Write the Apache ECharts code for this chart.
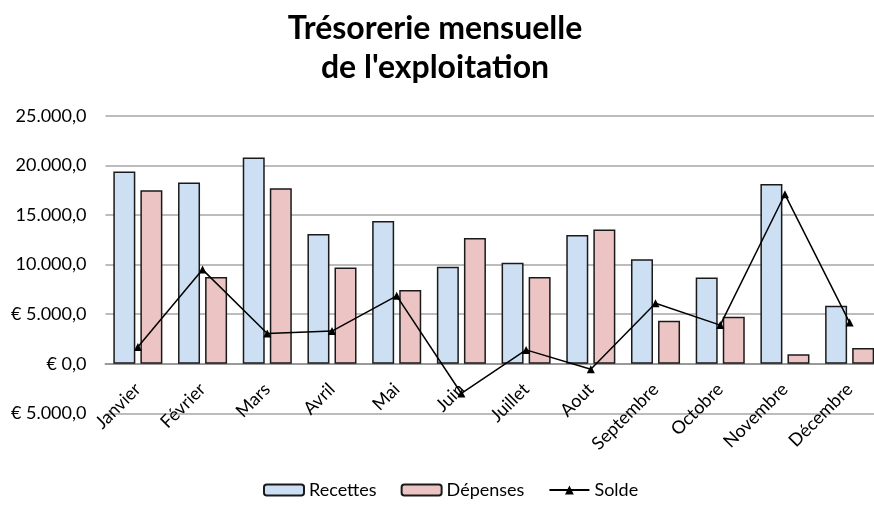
<!DOCTYPE html>
<html>
<head>
<meta charset="utf-8">
<script src="https://cdn.jsdelivr.net/npm/echarts@6/dist/echarts.min.js"></script>
<style>
  html, body { margin: 0; padding: 0; background: #fff; overflow: hidden; }
  /* la zone de tracé dépasse un peu à droite, comme l'original recadré */
  #chart { width: 882px; height: 524px; }
</style>
</head>
<body>
<div id="chart"></div>
<script>
// mois
var mois = ['Janvier', 'Février', 'Mars', 'Avril', 'Mai', 'Juin', 'Juillet', 'Aout', 'Septembre', 'Octobre', 'Novembre', 'Décembre'];
// valeurs
var recettes = [19400, 18300, 20800, 13100, 14400, 9800, 10200, 13000, 10550, 8700, 18150, 5850];
var depenses = [17500, 8750, 17700, 9700, 7450, 12700, 8750, 13550, 4350, 4750, 950, 1600];
var solde = [1700, 9500, 3050, 3300, 6850, -3000, 1400, -550, 6100, 3900, 17100, 4150];
// axe vertical
var yMin = -5000, yMax = 25000, yStep = 5000;
var yLabels = ['€ 5.000,0', '€ 0,0', '€ 5.000,0', '10.000,0', '15.000,0', '20.000,0', '25.000,0'];

var chart = echarts.init(document.getElementById('chart'));
var police = 'Lato';

var option = {
    animation: false,
    title: {
        text: 'Trésorerie mensuelle\nde l\'exploitation',
        left: 430,
        textAlign: 'center',
        top: 4,
        textStyle: {
            fontFamily: police,
            fontWeight: 'bold',
            fontSize: 32,
            lineHeight: 39,
            color: '#000'
        }
    },
    legend: {
        bottom: 20,
        left: 258,
        itemWidth: 40,
        itemHeight: 11,
        itemGap: 24,
        textStyle: { fontFamily: police, fontSize: 18, color: '#000' },
        data: ['Recettes', 'Dépenses', 'Solde']
    },
    grid: {
        left: 105.5,
        width: 776.5,
        top: 116,
        bottom: 110.7,
        containLabel: false
    },
    xAxis: {
        type: 'category',
        data: mois,
        axisLine: { onZero: true, lineStyle: { color: '#999', width: 2 } },
        axisTick: { show: false },
        axisLabel: {
            interval: 0,
            rotate: 45,
            margin: -27,
            fontFamily: police,
            fontSize: 18,
            color: '#000'
        }
    },
    yAxis: {
        type: 'value',
        min: yMin,
        max: yMax,
        interval: yStep,
        axisLine: { show: false },
        axisTick: { show: false },
        splitLine: { lineStyle: { color: '#a6a6a6', width: 1.5 } },
        axisLabel: {
            margin: 19,
            fontFamily: police,
            fontSize: 18,
            color: '#000',
            formatter: function (v) {
                return yLabels[Math.round((v - yMin) / yStep)];
            }
        }
    },
    series: [
        {
            name: 'Recettes',
            type: 'bar',
            data: recettes,
            barWidth: 22,
            barGap: '23%',
            itemStyle: { color: '#cddff2', borderColor: '#1a1a1a', borderWidth: 1.5 }
        },
        {
            name: 'Dépenses',
            type: 'bar',
            data: depenses,
            barWidth: 22,
            itemStyle: { color: '#ebc4c3', borderColor: '#1a1a1a', borderWidth: 1.5 }
        },
        {
            name: 'Solde',
            type: 'line',
            data: solde,
            symbol: 'triangle',
            symbolSize: 8,
            z: 5,
            lineStyle: { color: '#000', width: 1.5 },
            itemStyle: { color: '#000' }
        }
    ]
};
chart.setOption(option);
</script>
</body>
</html>
